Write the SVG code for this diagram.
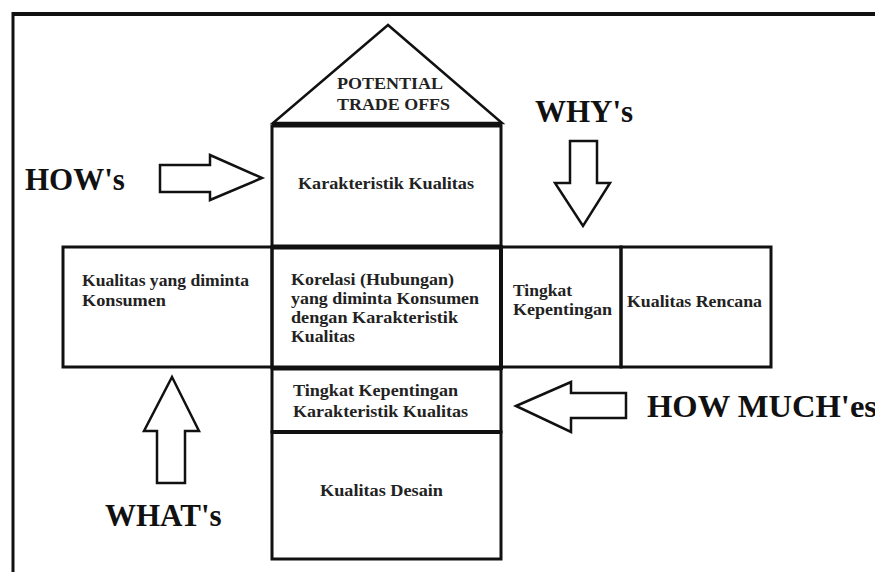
<svg xmlns="http://www.w3.org/2000/svg" width="875" height="572" viewBox="0 0 875 572">
<style>
.box{fill:none;stroke:#111;stroke-width:3}
.thick{stroke:#111;stroke-width:5;fill:none}
.lbl{font-family:"Liberation Serif","Times New Roman",serif;font-weight:bold;font-size:16px;fill:#222}
.head{font-family:"Liberation Serif","Times New Roman",serif;font-weight:bold;font-size:31px;fill:#111}
.arrow{fill:#fff;stroke:#111;stroke-width:2.5;stroke-linejoin:miter}
</style>
<rect x="0" y="0" width="875" height="572" fill="#fff"/>
<g id="frame">
<line x1="13" y1="14" x2="875" y2="14" stroke="#111" stroke-width="4"/>
<line x1="13" y1="12" x2="13" y2="572" stroke="#111" stroke-width="3"/>
</g>
<g id="roof">
<polygon points="388,25 273,123 502,123" fill="#fff" stroke="#111" stroke-width="2.5"/>
<line x1="272" y1="124.5" x2="502" y2="124.5" class="thick"/>
<text class="lbl" x="337" y="89" textLength="106" lengthAdjust="spacingAndGlyphs">POTENTIAL</text>
<text class="lbl" x="337" y="110" textLength="113" lengthAdjust="spacingAndGlyphs">TRADE OFFS</text>
</g>
<g id="karakteristik">
<rect class="box" x="272" y="126" width="229" height="121"/>
<text class="lbl" x="298" y="189" textLength="176" lengthAdjust="spacingAndGlyphs">Karakteristik Kualitas</text>
</g>
<g id="kualitas-diminta">
<rect class="box" x="63" y="247" width="209" height="120"/>
<text class="lbl" x="82" y="286" textLength="167" lengthAdjust="spacingAndGlyphs">Kualitas yang diminta</text>
<text class="lbl" x="82" y="306" textLength="84" lengthAdjust="spacingAndGlyphs">Konsumen</text>
</g>
<g id="korelasi">
<rect class="box" x="272" y="247" width="229" height="121"/>
<line x1="272" y1="247" x2="501" y2="247" class="thick"/>
<line x1="272" y1="368" x2="501" y2="368" class="thick"/>
<line x1="501" y1="245" x2="501" y2="370" stroke="#111" stroke-width="4"/>
<text class="lbl" x="291" y="285" textLength="163" lengthAdjust="spacingAndGlyphs">Korelasi (Hubungan)</text>
<text class="lbl" x="291" y="304" textLength="188" lengthAdjust="spacingAndGlyphs">yang diminta Konsumen</text>
<text class="lbl" x="291" y="323" textLength="167" lengthAdjust="spacingAndGlyphs">dengan Karakteristik</text>
<text class="lbl" x="291" y="342" textLength="64" lengthAdjust="spacingAndGlyphs">Kualitas</text>
</g>
<g id="tingkat-kepentingan">
<rect class="box" x="501" y="247" width="120" height="120"/>
<text class="lbl" x="513" y="296" textLength="59" lengthAdjust="spacingAndGlyphs">Tingkat</text>
<text class="lbl" x="513" y="315" textLength="99" lengthAdjust="spacingAndGlyphs">Kepentingan</text>
</g>
<g id="kualitas-rencana">
<rect class="box" x="621" y="247" width="150" height="120"/>
<text class="lbl" x="627" y="307" textLength="135" lengthAdjust="spacingAndGlyphs">Kualitas Rencana</text>
</g>
<g id="tingkat-karakteristik">
<rect class="box" x="272" y="368" width="229" height="64"/>
<line x1="272" y1="432" x2="501" y2="432" stroke="#111" stroke-width="4"/>
<text class="lbl" x="293" y="396" textLength="165" lengthAdjust="spacingAndGlyphs">Tingkat Kepentingan</text>
<text class="lbl" x="293" y="417" textLength="175" lengthAdjust="spacingAndGlyphs">Karakteristik Kualitas</text>
</g>
<g id="kualitas-desain">
<rect class="box" x="272" y="432" width="229" height="127"/>
<text class="lbl" x="320" y="496" textLength="123" lengthAdjust="spacingAndGlyphs">Kualitas Desain</text>
</g>
<g id="connectors">
<polygon class="arrow" points="160,165 210,165 210,155 262,178 210,200 210,192 160,192"/>
<polygon class="arrow" points="570,141 597,141 597,183 610,183 583,226 555,183 570,183"/>
<polygon class="arrow" points="172,377 199,431 185,431 185,483 157,483 157,431 144,431"/>
<polygon class="arrow" points="516,406 571,382 571,393 626,393 626,418 571,418 571,432"/>
</g>
<g id="labels">
<text class="head" x="25" y="190">HOW's</text>
<text class="head" x="535" y="122">WHY's</text>
<text class="head" x="105" y="526">WHAT's</text>
<text class="head" x="647" y="417" textLength="230" lengthAdjust="spacingAndGlyphs">HOW MUCH'es</text>
</g>
</svg>
